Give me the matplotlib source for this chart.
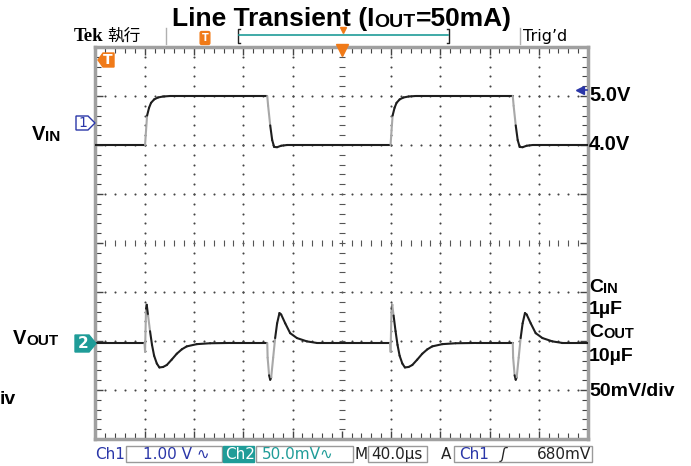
import numpy as np
import matplotlib.pyplot as plt
from matplotlib.collections import LineCollection
from matplotlib.patches import Rectangle, Polygon

# ---- data (40us/div, Ch1 1V/div, Ch2 50mV/div) ----
rise_edges = [40.0, 239.4]      # VIN rising edges, us
fall_edges = [139.5, 338.9]     # VIN falling edges, us

# VIN around an edge: time after the edge (us) and volts
vin_rise_t = [0.25, 1.05, 1.9, 3.5, 5.1, 7.6, 10.8, 14.9, 20.6]
vin_rise_v = [4.00, 4.30, 4.60, 4.76, 4.86, 4.93, 4.97, 4.99, 5.00]
vin_fall_t = [0.0, 0.7, 2.4, 4.0, 5.6, 8.0, 11.3, 16.2]
vin_fall_v = [5.00, 4.80, 4.40, 4.10, 3.96, 3.955, 3.985, 4.00]

# VOUT deviation around an edge: time after the edge (us) and mV
vout_rise_t = [-0.2, 0.25, 1.05, 1.6, 2.7, 4.3, 5.9, 7.6, 9.8, 11.9, 14.9,
               17.9, 21.9, 26.0, 30.1, 34.1, 42.3, 53.1, 69.4]
vout_rise_mv = [0, -9, 35, 39, 28, 12, -2, -13, -21, -25, -24.5,
                -22.5, -17, -11, -6.5, -3.5, -1.2, -0.3, 0]
vout_fall_t = [0.0, 0.3, 1.5, 2.4, 3.2, 4.8, 6.4, 8.0, 9.9, 11.3, 14.6,
               18.6, 24.1, 32.2, 40.3]
vout_fall_mv = [0, -15, -33, -37.5, -35, -15, 5, 20, 30.5, 29, 20,
                10, 5, 1.6, 0]

vin_low, vin_high = 4.0, 5.0
vin_level_div = 2.0       # 4.0V sits 2 div above centre
vout_level_div = -2.04    # VOUT baseline
mv_per_div = 50.0

W, H = 691, 466


def fx(x):
    return x / W


def fy(y):
    return 1 - y / H


# build full traces from the edge shapes
def build_trace(t_end, start_level, rise_t, rise_v, fall_t, fall_v):
    t, v = [0.0], [start_level]
    edges = sorted([(e, 'r') for e in rise_edges] + [(e, 'f') for e in fall_edges])
    for e, kind in edges:
        if kind == 'r':
            t += [e + d for d in rise_t]
            v += list(rise_v)
        else:
            t += [e + d for d in fall_t]
            v += list(fall_v)
    t.append(t_end)
    v.append(v[-1])
    return np.array(t), np.array(v)


vin_t, vin_v = build_trace(400, vin_low, vin_rise_t, vin_rise_v, vin_fall_t, vin_fall_v)
vout_t, vout_mv = build_trace(400, 0.0, vout_rise_t, vout_rise_mv, vout_fall_t, vout_fall_mv)
vin_div = vin_v - vin_low + vin_level_div
vout_div = vout_level_div + vout_mv / mv_per_div

fig = plt.figure(figsize=(W / 100, H / 100), dpi=100)
fig.patch.set_facecolor('white')

ax = fig.add_axes([fx(95.5), fy(439), (588 - 95.5) / W, (439 - 47) / H])
ax.set_xlim(0, 400)
ax.set_ylim(-4, 4)
ax.set_xticks(np.arange(0, 401, 40))
ax.set_xticks(np.arange(0, 401, 8), minor=True)
ax.set_yticks(np.arange(-4, 4.01, 1))
ax.set_yticks(np.arange(-4, 4.01, 0.2), minor=True)
ax.tick_params(which='both', direction='in', top=True, right=True,
               labelbottom=False, labelleft=False, color='#444')
ax.tick_params(which='major', length=6, width=1)
ax.tick_params(which='minor', length=4, width=0.8)
for s in ax.spines.values():
    s.set_color('#a0a0a0')
    s.set_linewidth(2.5)

# graticule dots
xs = np.arange(0, 400.1, 8)
ys = np.arange(-4, 4.01, 0.2)
for gy in [-3, -2, -1, 1, 2, 3]:
    ax.plot(xs, np.full_like(xs, gy), ls='none', marker='o', ms=1.5, color='#444', mew=0)
for gx in [40, 80, 120, 160, 240, 280, 320, 360]:
    ax.plot(np.full_like(ys, gx), ys, ls='none', marker='o', ms=1.5, color='#444', mew=0)
# centre cross with small ticks
ax.plot(xs, np.zeros_like(xs), ls='none', marker='|', ms=4, color='#555', mew=0.8)
ax.plot(np.full_like(ys, 200), ys, ls='none', marker='_', ms=4, color='#555', mew=0.8)


# traces: fast edges drawn lighter like on the scope screen
def draw_trace(t, y):
    pts = np.column_stack([t, y])
    segs = np.stack([pts[:-1], pts[1:]], axis=1)
    dx = np.diff(t) / 40.0
    dy = np.abs(np.diff(y))
    slope = dy / np.maximum(dx, 1e-6)
    cols = ['#a8a8a8' if s > 8 else '#1e1e1e' for s in slope]
    ax.add_collection(LineCollection(segs, colors=cols, linewidths=1.5,
                                     capstyle='round', joinstyle='round', zorder=3))


draw_trace(vin_t, vin_div)
draw_trace(vout_t, vout_div)

bold = dict(family='Liberation Sans', weight='bold', color='black')


def chain(x, y, parts, **kw):
    first = fig.text(fx(x), fy(y), parts[0][0], fontsize=parts[0][1], va='baseline', **kw)
    prev = first
    for s, size in parts[1:]:
        prev = ax.annotate(s, xy=(1, 0), xycoords=prev, fontsize=size, va='bottom',
                           ha='left', annotation_clip=False, **kw)
    return first


# title
chain(172, 26, [("Line Transient (I", 19), ("OUT", 14), ("=50mA)", 19)], **bold)

# left labels
chain(32, 140, [("V", 14.5), ("IN", 11)], **bold)
chain(13, 344, [("V", 14.5), ("OUT", 11)], **bold)
fig.text(fx(0), fy(404), "iv", fontsize=14, va='baseline', **bold)

# right labels
fig.text(fx(589), fy(101), "5.0V", fontsize=14.5, va='baseline', **bold)
fig.text(fx(589), fy(150), "4.0V", fontsize=14.5, va='baseline', **bold)
chain(589, 292, [("C", 14), ("IN", 10.5)], **bold)
fig.text(fx(589), fy(314), "1\u00b5F", fontsize=14, va='baseline', **bold)
chain(589, 337, [("C", 14), ("OUT", 10.5)], **bold)
fig.text(fx(589), fy(361), "10\u00b5F", fontsize=14, va='baseline', **bold)
fig.text(fx(589), fy(396), "50mV/div", fontsize=14, va='baseline', **bold)

blue = '#2a36a8'
teal = '#1f9c98'
orange = '#f07a18'
tf = fig.transFigure


def poly(pts, **kw):
    fig.add_artist(Polygon([(fx(a), fy(b)) for a, b in pts], closed=True, transform=tf, **kw))


# channel markers
poly([(76, 116), (88, 116), (95, 123), (88, 130), (76, 130)], fc='white', ec=blue, lw=1)
fig.text(fx(82.5), fy(123), "1", color=blue, fontsize=10, ha='center', va='center')
poly([(75, 335), (89, 335), (96, 343.5), (89, 352), (75, 352)], fc=teal, ec=teal, lw=1)
fig.text(fx(83), fy(343.5), "2", color='white', fontsize=11, weight='bold', ha='center', va='center')

# trigger marker top-left of screen
poly([(98, 60), (103, 53), (114, 53), (114, 67), (103, 67)], fc=orange, ec=orange, lw=1)
fig.text(fx(107.5), fy(60.5), "T", color='white', fontsize=10, weight='bold', ha='center', va='center')

# trigger position marker on top ruler and level arrow on right
fig.add_artist(plt.Line2D([fx(342)], [fy(50)], marker='v', ms=8, color=orange, transform=tf))
fig.add_artist(plt.Line2D([fx(580)], [fy(90)], marker='<', ms=6, color=blue, transform=tf))
fig.add_artist(plt.Line2D([fx(580), fx(587)], [fy(90), fy(90)], color=blue, lw=1.2, transform=tf))

# header line
fig.text(fx(74), fy(41), "Tek", family='Liberation Serif', weight='bold', fontsize=13.5, va='baseline')
fig.text(fx(107), fy(41), "執行", family=['Noto Sans CJK SC', 'DejaVu Sans'], fontsize=12, va='baseline')
for sx in [166, 520]:
    fig.add_artist(plt.Line2D([fx(sx), fx(sx)], [fy(28), fy(44)], color='#b0b0b0', lw=1, transform=tf))
fig.text(fx(205), fy(38), "T", color='white', fontsize=7, weight='bold', ha='center', va='center',
         bbox=dict(boxstyle='round,pad=0.15', fc=orange, ec=orange))
for bx, d in [(238, 1), (449, -1)]:
    fig.add_artist(plt.Line2D([fx(bx + 2 * d), fx(bx), fx(bx), fx(bx + 2 * d)],
                              [fy(29), fy(29), fy(43), fy(43)], color='#222', lw=1, transform=tf))
fig.add_artist(plt.Line2D([fx(239), fx(448)], [fy(35), fy(35)], color=teal, lw=1.2, transform=tf))
fig.add_artist(plt.Line2D([fx(343)], [fy(30)], marker='v', ms=5, color=orange, transform=tf))
fig.text(fx(523), fy(41), "Trig\u2019d", family='DejaVu Sans', fontsize=11.5, va='baseline')

# status bar at the bottom
st = dict(family='DejaVu Sans', fontsize=11, va='baseline')
base = fy(459)


def box(x0, x1, fc='white', ec='#9a9a9a'):
    fig.add_artist(Rectangle((fx(x0), fy(462)), (x1 - x0) / W, 16 / H, fc=fc, ec=ec, lw=1, transform=tf))


box(126, 222)
box(223, 254, fc=teal, ec=teal)
box(256, 353)
box(368, 427)
box(454, 592)
fig.text(fx(95), base, "Ch1", color=blue, **st)
fig.text(fx(143), base, "1.00 V \u223f", color=blue, **st)
fig.text(fx(225), base, "Ch2", color='white', **st)
fig.text(fx(262), base, "50.0mV\u223f", color=teal, **st)
fig.text(fx(354), base, "M", color='#222', **st)
fig.text(fx(371), base, "40.0\u00b5s", color='#222', **st)
fig.text(fx(441), base, "A", color='#222', **st)
fig.text(fx(459), base, "Ch1", color=blue, **st)
fig.text(fx(501), base, "\u0283", color='#222', style='italic', **st)
fig.text(fx(537), base, "680mV", color='#222', **st)

plt.savefig("out.png", dpi=100)
